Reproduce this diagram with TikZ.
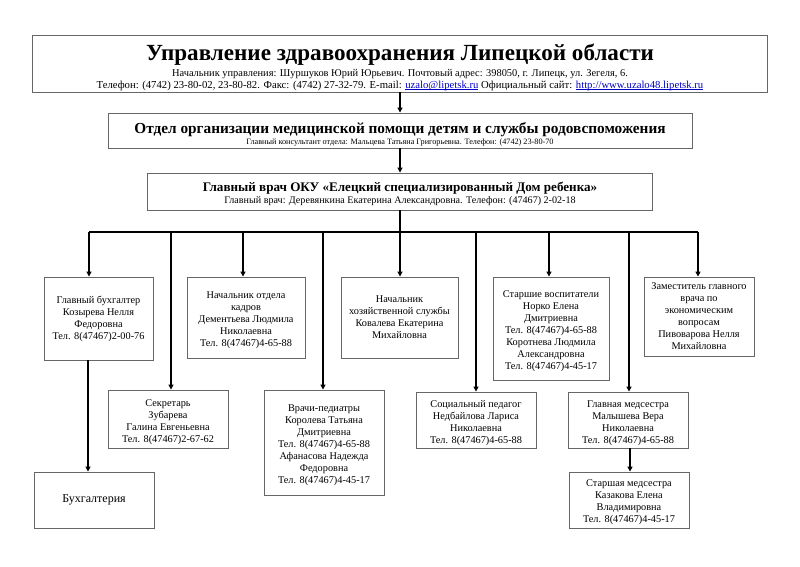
\documentclass[tikz,border=0pt]{standalone}
\usepackage{fontspec}
\setmainfont{Liberation Serif}
\usetikzlibrary{arrows.meta}
\definecolor{linkblue}{RGB}{0,0,200}
\newcommand{\lnk}[1]{\textcolor{linkblue}{\underline{\smash{#1}}}}
\begin{document}
\begin{tikzpicture}[x=1pt,y=-1pt,
  box/.style={draw=black!60, line width=0.9pt, fill=white, align=center, inner sep=1pt,
    font=\fontsize{10.3}{12}\selectfont},
  btxt/.style={align=center, inner sep=0pt, font=\fontsize{10.3}{12}\selectfont},
  txt/.style={anchor=base, inner sep=0pt},
  conn/.style={draw=black, line width=1.5pt},
  arr/.style={conn, -{Triangle[length=5pt,width=5pt]}}]
\useasboundingbox (0,0) rectangle (800,566);
\fill[white] (0,0) rectangle (800,566);

\node[box, minimum width=735, minimum height=57] (b1) at (400,63.5) {};
\node[txt, font=\fontsize{23.1}{24}\selectfont\bfseries] (b1a) at (400,60)
 {Управление здравоохранения Липецкой области};
\node[txt, font=\fontsize{10.4}{12}\selectfont] (b1b) at (400,76)
 {Начальник управления: Шуршуков Юрий Юрьевич. Почтовый адрес: 398050, г. Липецк, ул. Зегеля, 6.};
\node[txt, font=\fontsize{10.7}{12}\selectfont] (b1c) at (400,88)
 {Телефон: (4742) 23-80-02, 23-80-82. Факс: (4742) 27-32-79. E-mail: \lnk{uzalo@lipetsk.ru} Официальный сайт: \lnk{http://www.uzalo48.lipetsk.ru}};

\node[box, minimum width=584, minimum height=35] (b2) at (400,130.5) {};
\node[txt, font=\fontsize{15.3}{16}\selectfont\bfseries] (b2a) at (400,133)
 {Отдел организации медицинской помощи детям и службы родовспоможения};
\node[txt, font=\fontsize{8.2}{10}\selectfont] (b2b) at (400,144)
 {Главный консультант отдела: Мальцева Татьяна Григорьевна. Телефон: (4742) 23-80-70};

\node[box, minimum width=505, minimum height=37] (b3) at (400,191.5) {};
\node[txt, font=\fontsize{13.1}{15}\selectfont\bfseries] (b3a) at (400,191.5)
 {Главный врач ОКУ «Елецкий специализированный Дом ребенка»};
\node[txt, font=\fontsize{10.1}{12}\selectfont] (b3b) at (400,203.5)
 {Главный врач: Деревянкина Екатерина Александровна. Телефон: (47467) 2-02-18};

\node[box, minimum width=109, minimum height=83] (buh) at (98.5,318.5)
 {Главный бухгалтер\\Козырева Нелля\\Федоровна\\Тел. 8(47467)2-00-76};
\node[box, minimum width=118, minimum height=81] (kadr) at (246,317.5) {};
\node[btxt] (kadrt) at (246,320.5)
 {Начальник отдела\\кадров\\Дементьева Людмила\\Николаевна\\Тел. 8(47467)4-65-88};
\node[box, minimum width=117, minimum height=81] (hoz) at (399.5,317.5)
 {Начальник\\хозяйственной службы\\Ковалева Екатерина\\Михайловна};
\node[box, minimum width=116, minimum height=103] (vosp) at (551,328.5) {};
\node[btxt] (vospt) at (551,331)
 {Старшие воспитатели\\Норко Елена\\Дмитриевна\\Тел. 8(47467)4-65-88\\Коротнева Людмила\\Александровна\\Тел. 8(47467)4-45-17};
\node[box, minimum width=110, minimum height=79] (zam) at (699,316.5)
 {Заместитель главного\\врача по\\экономическим\\вопросам\\Пивоварова Нелля\\Михайловна};

\node[box, minimum width=120, minimum height=58] (sekr) at (168,419) {};
\node[btxt] (sekrt) at (168,422.5)
 {Секретарь\\Зубарева\\Галина Евгеньевна\\Тел. 8(47467)2-67-62};
\node[box, minimum width=120, minimum height=105] (vrach) at (324,442.5) {};
\node[btxt] (vracht) at (324,445.5)
 {Врачи-педиатры\\Королева Татьяна\\Дмитриевна\\Тел. 8(47467)4-65-88\\Афанасова Надежда\\Федоровна\\Тел. 8(47467)4-45-17};
\node[box, minimum width=120, minimum height=56] (soc) at (476,420) {};
\node[btxt] (soct) at (476,423)
 {Социальный педагог\\Недбайлова Лариса\\Николаевна\\Тел. 8(47467)4-65-88};
\node[box, minimum width=120, minimum height=56] (med) at (628,420) {};
\node[btxt] (medt) at (628,423)
 {Главная медсестра\\Малышева Вера\\Николаевна\\Тел. 8(47467)4-65-88};
\node[box, minimum width=120, minimum height=56] (buhg) at (94,500)
 {{\fontsize{12}{14}\selectfont Бухгалтерия}};
\node[box, minimum width=120, minimum height=56] (star) at (629,500) {};
\node[btxt] (start) at (629,502)
 {Старшая медсестра\\Казакова Елена\\Владимировна\\Тел. 8(47467)4-45-17};

% connectors
\draw[arr] (b1.south) -- (b2.north);
\draw[arr] (b2.south) -- (b3.north);
\coordinate (bc) at (400,232);
\coordinate (bL) at (89,232);
\coordinate (bR) at (698,232);
\draw[conn] (b3.south) -- (bc);
\draw[conn] (bL) -- (bR);
\coordinate (d1) at (89,232);
\coordinate (d2) at (171,232);
\coordinate (d3) at (243,232);
\coordinate (d4) at (323,232);
\coordinate (d5) at (400,232);
\coordinate (d6) at (476,232);
\coordinate (d7) at (549,232);
\coordinate (d8) at (629,232);
\coordinate (d9) at (698,232);
\draw[arr] (d1) -- (buh.north -| d1);
\draw[arr] (d2) -- (sekr.north -| d2);
\draw[arr] (d3) -- (kadr.north -| d3);
\draw[arr] (d4) -- (vrach.north -| d4);
\draw[arr] (d5) -- (hoz.north -| d5);
\draw[arr] (d6) -- (soc.north -| d6);
\draw[arr] (d7) -- (vosp.north -| d7);
\draw[arr] (d8) -- (med.north -| d8);
\draw[arr] (d9) -- (zam.north -| d9);
\coordinate (e1) at (88,0);
\coordinate (e2) at (630,0);
\draw[arr] (buh.south -| e1) -- (buhg.north -| e1);
\draw[arr] (med.south -| e2) -- (star.north -| e2);
\end{tikzpicture}
\end{document}
